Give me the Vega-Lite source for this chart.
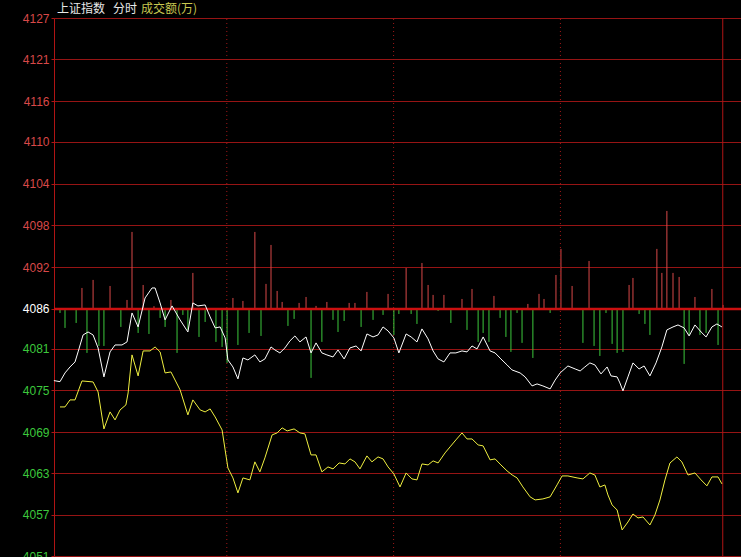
{
  "$schema": "https://vega.github.io/schema/vega-lite/v6.json",
  "width": 687,
  "height": 538,
  "autosize": "none",
  "padding": {"left": 54, "top": 18, "right": 0, "bottom": 1},
  "background": "#000000",
  "config": {
    "view": {"stroke": null},
    "axisY": {
      "domainColor": "#b01414",
      "domainWidth": 1,
      "tickColor": "#b01414",
      "tickSize": 3,
      "grid": true,
      "gridColor": "#961414",
      "gridWidth": 1,
      "gridOpacity": 1,
      "labelFont": "Liberation Sans",
      "labelFontSize": 12,
      "labelPadding": 2
    }
  },
  "datasets": {
    "price": [
      {"t": -2.2, "v": 4076.13}, {"t": 0, "v": 4075.98}, {"t": 1.8, "v": 4077.21}, {"t": 3.6, "v": 4078.05},
      {"t": 5.4, "v": 4078.76}, {"t": 6.5, "v": 4080.17}, {"t": 8.3, "v": 4082.56}, {"t": 10.1, "v": 4082.98},
      {"t": 11.9, "v": 4082.56}, {"t": 13.7, "v": 4080.73}, {"t": 15.8, "v": 4076.65}, {"t": 18.0, "v": 4080.17},
      {"t": 19.8, "v": 4081.15}, {"t": 22.3, "v": 4081.15}, {"t": 24.1, "v": 4081.58}, {"t": 25.9, "v": 4085.66},
      {"t": 28.1, "v": 4083.69}, {"t": 30.6, "v": 4087.77}, {"t": 33.1, "v": 4089.18}, {"t": 34.2, "v": 4089.18},
      {"t": 36.0, "v": 4087.07}, {"t": 37.8, "v": 4084.68}, {"t": 40.3, "v": 4086.65}, {"t": 43.2, "v": 4084.68},
      {"t": 46.0, "v": 4082.98}, {"t": 47.8, "v": 4087.07}, {"t": 49.6, "v": 4086.65}, {"t": 52.2, "v": 4086.79},
      {"t": 54.0, "v": 4085.10}, {"t": 55.8, "v": 4083.55}, {"t": 57.6, "v": 4083.69}, {"t": 59.4, "v": 4082.14},
      {"t": 60.4, "v": 4079.04}, {"t": 62.2, "v": 4078.05}, {"t": 64.0, "v": 4076.37}, {"t": 65.8, "v": 4079.32},
      {"t": 67.6, "v": 4079.04}, {"t": 70.1, "v": 4079.75}, {"t": 71.9, "v": 4078.76}, {"t": 73.7, "v": 4079.18},
      {"t": 75.9, "v": 4080.87}, {"t": 77.3, "v": 4080.45}, {"t": 79.1, "v": 4080.03}, {"t": 80.9, "v": 4080.73},
      {"t": 82.7, "v": 4081.72}, {"t": 84.5, "v": 4082.42}, {"t": 86.3, "v": 4081.58}, {"t": 88.5, "v": 4082.28},
      {"t": 90.3, "v": 4080.03}, {"t": 92.1, "v": 4081.44}, {"t": 94.2, "v": 4080.03}, {"t": 96.0, "v": 4079.75},
      {"t": 98.2, "v": 4079.46}, {"t": 100.0, "v": 4080.45}, {"t": 102.2, "v": 4079.18}, {"t": 104.3, "v": 4080.73},
      {"t": 106.5, "v": 4081.01}, {"t": 108.3, "v": 4080.31}, {"t": 110.4, "v": 4082.70}, {"t": 112.6, "v": 4082.28},
      {"t": 114.4, "v": 4082.56}, {"t": 116.2, "v": 4083.69}, {"t": 118.0, "v": 4083.13}, {"t": 120.1, "v": 4082.14},
      {"t": 121.9, "v": 4080.03}, {"t": 124.5, "v": 4082.70}, {"t": 126.3, "v": 4082.28}, {"t": 128.4, "v": 4081.58},
      {"t": 130.2, "v": 4083.41}, {"t": 132.4, "v": 4082.00}, {"t": 134.2, "v": 4080.31}, {"t": 136.0, "v": 4079.18},
      {"t": 138.1, "v": 4078.76}, {"t": 140.3, "v": 4080.03}, {"t": 142.4, "v": 4080.03}, {"t": 144.6, "v": 4080.31},
      {"t": 146.4, "v": 4080.17}, {"t": 148.2, "v": 4081.01}, {"t": 150.0, "v": 4080.59}, {"t": 152.2, "v": 4082.28},
      {"t": 154.7, "v": 4080.31}, {"t": 156.5, "v": 4080.03}, {"t": 158.6, "v": 4079.18}, {"t": 160.8, "v": 4078.34},
      {"t": 162.6, "v": 4077.63}, {"t": 165.5, "v": 4077.21}, {"t": 167.3, "v": 4076.65}, {"t": 169.8, "v": 4075.38},
      {"t": 171.6, "v": 4075.66}, {"t": 173.7, "v": 4075.38}, {"t": 176.3, "v": 4074.96}, {"t": 178.1, "v": 4076.20},
      {"t": 179.9, "v": 4077.21}, {"t": 182.7, "v": 4078.19}, {"t": 185.3, "v": 4077.77}, {"t": 187.1, "v": 4077.49},
      {"t": 188.8, "v": 4078.05}, {"t": 190.6, "v": 4078.62}, {"t": 192.4, "v": 4078.34}, {"t": 194.6, "v": 4077.07},
      {"t": 196.8, "v": 4078.05}, {"t": 198.2, "v": 4076.79}, {"t": 200.4, "v": 4076.65}, {"t": 201.4, "v": 4075.80},
      {"t": 202.5, "v": 4074.68}, {"t": 204.3, "v": 4076.65}, {"t": 206.1, "v": 4078.62}, {"t": 208.3, "v": 4077.77},
      {"t": 210.1, "v": 4078.19}, {"t": 212.2, "v": 4076.79}, {"t": 214.4, "v": 4078.62}, {"t": 216.5, "v": 4080.87},
      {"t": 218.3, "v": 4083.27}, {"t": 220.5, "v": 4083.69}, {"t": 222.3, "v": 4083.97}, {"t": 224.5, "v": 4083.55},
      {"t": 226.3, "v": 4082.42}, {"t": 228.4, "v": 4083.97}, {"t": 230.6, "v": 4082.98}, {"t": 232.4, "v": 4082.28},
      {"t": 234.5, "v": 4083.69}, {"t": 236.3, "v": 4084.11}, {"t": 238.1, "v": 4083.69}
    ],
    "avg": [
      {"t": 0, "v": 4072.42}, {"t": 1.8, "v": 4072.42}, {"t": 3.6, "v": 4073.41}, {"t": 5.4, "v": 4073.41},
      {"t": 7.9, "v": 4076.08}, {"t": 11.9, "v": 4075.94}, {"t": 13.7, "v": 4074.53}, {"t": 15.8, "v": 4069.32},
      {"t": 18.0, "v": 4071.72}, {"t": 19.8, "v": 4070.59}, {"t": 21.6, "v": 4072.00}, {"t": 23.7, "v": 4072.70},
      {"t": 24.5, "v": 4074.39}, {"t": 25.9, "v": 4079.75}, {"t": 28.1, "v": 4076.79}, {"t": 29.9, "v": 4080.31},
      {"t": 32.4, "v": 4080.31}, {"t": 34.2, "v": 4080.87}, {"t": 36.0, "v": 4080.17}, {"t": 37.8, "v": 4077.21},
      {"t": 39.9, "v": 4077.35}, {"t": 43.2, "v": 4074.82}, {"t": 46.0, "v": 4071.30}, {"t": 47.8, "v": 4073.41},
      {"t": 50.4, "v": 4072.00}, {"t": 52.2, "v": 4071.72}, {"t": 54.0, "v": 4072.14}, {"t": 55.8, "v": 4071.01},
      {"t": 58.3, "v": 4069.18}, {"t": 59.4, "v": 4066.37}, {"t": 60.4, "v": 4063.83}, {"t": 62.2, "v": 4062.42},
      {"t": 64.0, "v": 4060.31}, {"t": 65.8, "v": 4062.42}, {"t": 68.3, "v": 4062.14}, {"t": 70.1, "v": 4064.68},
      {"t": 71.9, "v": 4063.27}, {"t": 73.7, "v": 4065.24}, {"t": 76.3, "v": 4068.48}, {"t": 78.1, "v": 4068.76},
      {"t": 79.9, "v": 4069.47}, {"t": 81.7, "v": 4069.04}, {"t": 84.2, "v": 4069.32}, {"t": 86.3, "v": 4068.76},
      {"t": 88.1, "v": 4068.62}, {"t": 90.3, "v": 4065.66}, {"t": 92.1, "v": 4065.66}, {"t": 94.2, "v": 4063.27},
      {"t": 96.4, "v": 4063.97}, {"t": 98.2, "v": 4063.69}, {"t": 100.4, "v": 4064.53}, {"t": 102.5, "v": 4064.39},
      {"t": 104.3, "v": 4065.10}, {"t": 106.1, "v": 4064.68}, {"t": 107.9, "v": 4063.69}, {"t": 110.4, "v": 4065.52},
      {"t": 112.2, "v": 4064.68}, {"t": 114.4, "v": 4065.38}, {"t": 116.2, "v": 4065.10}, {"t": 118.0, "v": 4063.97},
      {"t": 120.1, "v": 4062.98}, {"t": 122.3, "v": 4061.15}, {"t": 124.5, "v": 4063.12}, {"t": 126.6, "v": 4062.28},
      {"t": 128.4, "v": 4062.14}, {"t": 130.2, "v": 4064.39}, {"t": 132.4, "v": 4064.25}, {"t": 134.2, "v": 4064.82},
      {"t": 136.0, "v": 4064.53}, {"t": 138.5, "v": 4065.94}, {"t": 140.3, "v": 4066.79}, {"t": 142.4, "v": 4067.77},
      {"t": 144.6, "v": 4068.76}, {"t": 146.4, "v": 4067.91}, {"t": 148.2, "v": 4067.91}, {"t": 150.4, "v": 4067.07},
      {"t": 152.2, "v": 4066.93}, {"t": 154.7, "v": 4064.96}, {"t": 156.5, "v": 4065.10}, {"t": 158.6, "v": 4064.25},
      {"t": 160.8, "v": 4063.41}, {"t": 162.6, "v": 4062.85}, {"t": 164.4, "v": 4062.42}, {"t": 166.5, "v": 4061.15},
      {"t": 169.1, "v": 4059.75}, {"t": 170.9, "v": 4059.32}, {"t": 173.7, "v": 4059.46}, {"t": 176.3, "v": 4059.75},
      {"t": 178.8, "v": 4061.44}, {"t": 180.6, "v": 4062.70}, {"t": 182.7, "v": 4062.70}, {"t": 186.0, "v": 4062.42},
      {"t": 188.1, "v": 4062.28}, {"t": 190.6, "v": 4063.12}, {"t": 192.4, "v": 4062.83}, {"t": 194.2, "v": 4061.14},
      {"t": 196.0, "v": 4061.43}, {"t": 197.1, "v": 4060.02}, {"t": 198.6, "v": 4058.61}, {"t": 200.4, "v": 4057.90},
      {"t": 202.2, "v": 4055.09}, {"t": 204.3, "v": 4056.21}, {"t": 206.1, "v": 4057.34}, {"t": 207.9, "v": 4056.78},
      {"t": 209.7, "v": 4056.92}, {"t": 212.2, "v": 4055.79}, {"t": 214.0, "v": 4057.20}, {"t": 215.8, "v": 4059.31},
      {"t": 217.6, "v": 4062.13}, {"t": 219.4, "v": 4064.52}, {"t": 221.9, "v": 4065.37}, {"t": 223.7, "v": 4064.67},
      {"t": 225.9, "v": 4062.83}, {"t": 228.4, "v": 4063.12}, {"t": 230.6, "v": 4062.14}, {"t": 232.7, "v": 4061.30},
      {"t": 234.5, "v": 4062.56}, {"t": 236.7, "v": 4062.56}, {"t": 238.1, "v": 4061.58}
    ],
    "up": [
      {"t": 7.9, "v": 4089.18}, {"t": 11.9, "v": 4090.31}, {"t": 18.0, "v": 4089.46}, {"t": 24.1, "v": 4087.49},
      {"t": 25.9, "v": 4097.07}, {"t": 29.9, "v": 4089.60}, {"t": 33.8, "v": 4086.61}, {"t": 39.9, "v": 4087.49},
      {"t": 47.8, "v": 4091.30}, {"t": 62.2, "v": 4087.77}, {"t": 65.8, "v": 4087.35}, {"t": 70.1, "v": 4097.07},
      {"t": 74.1, "v": 4089.75}, {"t": 75.9, "v": 4095.24}, {"t": 78.1, "v": 4088.76}, {"t": 79.9, "v": 4087.21},
      {"t": 86.0, "v": 4087.07}, {"t": 88.5, "v": 4087.91}, {"t": 92.1, "v": 4086.65}, {"t": 96.0, "v": 4087.21},
      {"t": 104.0, "v": 4087.07}, {"t": 106.1, "v": 4087.07}, {"t": 110.4, "v": 4088.62}, {"t": 118.0, "v": 4088.34},
      {"t": 124.5, "v": 4092.00}, {"t": 130.2, "v": 4092.70}, {"t": 132.4, "v": 4089.60}, {"t": 134.2, "v": 4088.20},
      {"t": 138.1, "v": 4088.20}, {"t": 144.6, "v": 4087.63}, {"t": 148.2, "v": 4089.04}, {"t": 156.1, "v": 4088.06},
      {"t": 168.3, "v": 4086.93}, {"t": 172.3, "v": 4088.34}, {"t": 174.1, "v": 4087.63}, {"t": 178.4, "v": 4091.01},
      {"t": 180.2, "v": 4094.68}, {"t": 184.2, "v": 4089.46}, {"t": 190.3, "v": 4092.98}, {"t": 204.7, "v": 4089.60},
      {"t": 206.1, "v": 4090.59}, {"t": 214.7, "v": 4094.68}, {"t": 216.5, "v": 4091.30}, {"t": 218.3, "v": 4100.03},
      {"t": 220.5, "v": 4091.30}, {"t": 222.7, "v": 4090.73}, {"t": 228.4, "v": 4087.91}, {"t": 234.5, "v": 4089.04},
      {"t": 238.5, "v": 4086.79}
    ],
    "down": [
      {"t": 0, "v": 4085.66}, {"t": 1.8, "v": 4083.55}, {"t": 5.8, "v": 4084.25}, {"t": 9.7, "v": 4080.03},
      {"t": 14.0, "v": 4081.01}, {"t": 15.8, "v": 4081.01}, {"t": 21.9, "v": 4083.69}, {"t": 28.1, "v": 4082.84},
      {"t": 32.0, "v": 4082.70}, {"t": 36.0, "v": 4084.96}, {"t": 37.8, "v": 4083.69}, {"t": 42.1, "v": 4080.03},
      {"t": 44.2, "v": 4085.38}, {"t": 46.0, "v": 4083.27}, {"t": 50.0, "v": 4082.28}, {"t": 52.2, "v": 4084.39},
      {"t": 56.1, "v": 4081.58}, {"t": 58.3, "v": 4080.87}, {"t": 60.1, "v": 4078.62}, {"t": 64.0, "v": 4081.15},
      {"t": 68.0, "v": 4082.84}, {"t": 72.3, "v": 4082.42}, {"t": 82.0, "v": 4083.83}, {"t": 84.2, "v": 4084.82},
      {"t": 90.3, "v": 4076.51}, {"t": 94.2, "v": 4081.58}, {"t": 98.2, "v": 4084.68}, {"t": 100.0, "v": 4082.98},
      {"t": 102.2, "v": 4084.53}, {"t": 108.3, "v": 4083.69}, {"t": 112.6, "v": 4084.68}, {"t": 116.2, "v": 4085.38},
      {"t": 120.1, "v": 4082.56}, {"t": 121.9, "v": 4085.52}, {"t": 126.3, "v": 4085.52}, {"t": 128.4, "v": 4084.11},
      {"t": 136.0, "v": 4085.94}, {"t": 140.6, "v": 4084.25}, {"t": 146.4, "v": 4083.27}, {"t": 150.4, "v": 4081.58},
      {"t": 152.2, "v": 4082.84}, {"t": 154.3, "v": 4081.58}, {"t": 158.3, "v": 4084.96}, {"t": 160.4, "v": 4082.28},
      {"t": 162.2, "v": 4080.17}, {"t": 164.4, "v": 4085.66}, {"t": 166.2, "v": 4081.44}, {"t": 170.1, "v": 4079.32},
      {"t": 176.3, "v": 4085.66}, {"t": 188.1, "v": 4081.44}, {"t": 192.1, "v": 4081.01}, {"t": 194.2, "v": 4079.60},
      {"t": 196.4, "v": 4085.66}, {"t": 198.6, "v": 4081.30}, {"t": 200.4, "v": 4080.03}, {"t": 202.5, "v": 4080.17},
      {"t": 208.3, "v": 4085.52}, {"t": 210.4, "v": 4084.11}, {"t": 212.2, "v": 4082.56}, {"t": 224.5, "v": 4078.48},
      {"t": 226.3, "v": 4082.56}, {"t": 230.2, "v": 4082.56}, {"t": 232.4, "v": 4082.84}, {"t": 236.7, "v": 4081.15}
    ],
    "vlines": [
      {"t": 60, "k": "d"}, {"t": 120, "k": "d"}, {"t": 180, "k": "d"}, {"t": 238.4, "k": "s"}
    ],
    "labels": [
      {"t": -1.1, "v": 4128.45, "txt": "上证指数", "c": "w"},
      {"t": 19.1, "v": 4128.45, "txt": "分时", "c": "w"},
      {"t": 29.1, "v": 4128.45, "txt": "成交额(万)", "c": "y"}
    ]
  },
  "layer": [
    {
      "data": {"name": "up"},
      "mark": {"type": "rule", "color": "#d84848", "strokeWidth": 1},
      "encoding": {
        "x": {"field": "t", "type": "quantitative", "scale": {"domain": [-2.16, 244.96], "nice": false, "zero": false}, "axis": null},
        "y": {
          "field": "v", "type": "quantitative", "title": null,
          "scale": {"domain": [4051.42, 4127.21], "nice": false, "zero": false},
          "axis": {
            "title": null,
            "values": [4051.42, 4057.196, 4063.112, 4068.888, 4074.805, 4080.581, 4086.216, 4092.132, 4098.049, 4103.825, 4109.742, 4115.517, 4121.434, 4127.21],
            "format": ".0f",
            "labelColor": {
              "condition": [
                {"test": "datum.value > 4087", "value": "#d84848"},
                {"test": "datum.value < 4085", "value": "#3cc83c"}
              ],
              "value": "#ffffff"
            }
          }
        },
        "y2": {"datum": 4086.216}
      }
    },
    {
      "data": {"name": "vlines"},
      "transform": [{"filter": "datum.k == 'd'"}],
      "mark": {"type": "rule", "color": "#a01818", "strokeWidth": 1, "strokeDash": [1, 3]},
      "encoding": {
        "x": {"field": "t", "type": "quantitative", "axis": null},
        "y": {"datum": 4051.42, "type": "quantitative", "title": null},
        "y2": {"datum": 4127.21}
      }
    },
    {
      "data": {"name": "vlines"},
      "transform": [{"filter": "datum.k == 's'"}],
      "mark": {"type": "rule", "color": "#b01414", "strokeWidth": 1},
      "encoding": {
        "x": {"field": "t", "type": "quantitative", "axis": null},
        "y": {"datum": 4051.42, "type": "quantitative", "title": null},
        "y2": {"datum": 4127.21}
      }
    },
    {
      "data": {"name": "down"},
      "mark": {"type": "rule", "color": "#3cc83c", "strokeWidth": 1},
      "encoding": {
        "x": {"field": "t", "type": "quantitative", "axis": null},
        "y": {"field": "v", "type": "quantitative", "title": null},
        "y2": {"datum": 4086.216}
      }
    },
    {
      "data": {"values": [{"v": 4086.216}]},
      "mark": {"type": "rule", "color": "#cc1010", "strokeWidth": 2.5},
      "encoding": {
        "y": {"field": "v", "type": "quantitative", "title": null}
      }
    },
    {
      "data": {"name": "avg"},
      "mark": {"type": "line", "color": "#f0f040", "strokeWidth": 1},
      "encoding": {
        "x": {"field": "t", "type": "quantitative", "axis": null},
        "y": {"field": "v", "type": "quantitative", "title": null}
      }
    },
    {
      "data": {"name": "price"},
      "mark": {"type": "line", "color": "#ffffff", "strokeWidth": 1},
      "encoding": {
        "x": {"field": "t", "type": "quantitative", "axis": null},
        "y": {"field": "v", "type": "quantitative", "title": null}
      }
    },
    {
      "data": {"name": "labels"},
      "mark": {"type": "text", "align": "left", "baseline": "middle", "font": "Noto Sans CJK SC", "fontSize": 12, "clip": false},
      "encoding": {
        "x": {"field": "t", "type": "quantitative", "axis": null},
        "y": {"field": "v", "type": "quantitative", "title": null},
        "text": {"field": "txt"},
        "color": {"condition": {"test": "datum.c == 'y'", "value": "#c8c850"}, "value": "#e8e8e8"}
      }
    }
  ]
}
